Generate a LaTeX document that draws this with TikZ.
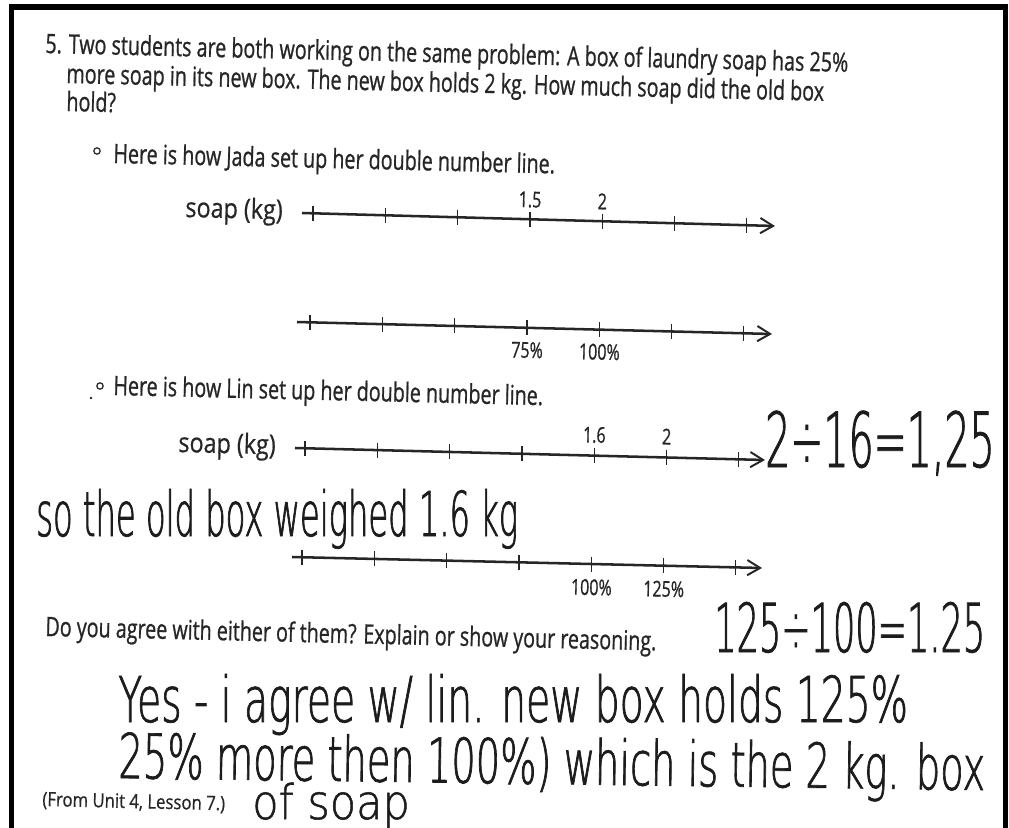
\documentclass[tikz,border=0pt]{standalone}
\usepackage{fontspec}
\usetikzlibrary{arrows.meta,calc}
\newfontfamily\printfont{Open Sans}[FakeStretch=0.737,FakeBold=0.8]
\newfontfamily\axisfont{Open Sans}[FakeStretch=0.85,FakeBold=0.6]
\newfontfamily\handfont{DejaVu Sans ExtraLight}[FakeStretch=0.52,FakeBold=1.1]
\newfontfamily\handwidefont{DejaVu Sans ExtraLight}[FakeStretch=0.62,FakeBold=1.1]
\newfontfamily\handloosefont{DejaVu Sans ExtraLight}[FakeStretch=0.9,FakeBold=1.1]
\definecolor{PrintInk}{HTML}{262626}
\definecolor{PenInk}{HTML}{1C1C1C}
\tikzset{
  prose/.style={font=\printfont\fontsize{19}{23}\selectfont,text=PrintInk,inner sep=0pt,anchor=base west,rotate=-1.35},
  axisname/.style={prose,font=\axisfont\fontsize{19.5}{23}\selectfont},
  ticklabel/.style={font=\printfont\fontsize{15.5}{19}\selectfont,text=PrintInk,inner sep=0pt,anchor=base,rotate=-1.35},
  pen/.style={font=\handfont\fontsize{44}{50}\selectfont,text=PenInk,inner sep=0pt,anchor=base west},
  numline/.style={PrintInk,line width=1.8pt,-{Straight Barb[length=3.2mm,width=3.8mm,line width=1.4pt]}},
  tickmark/.style={PrintInk,line width=0.9pt},
  bullet/.style={circle,draw=PrintInk,line width=0.9pt,minimum size=4.5pt,inner sep=0pt}
}

\begin{document}
\begin{tikzpicture}[x=0.025cm,y=-0.025cm]
  \useasboundingbox (0,0) rectangle (1009,828);
  \draw[black,line width=3.6pt] (11.5,828) |- (1005.5,7) -- (1005.5,828);

  % question
  \node[prose] (qline1) at (45,53) {5. Two students are both working on the same problem: A box of laundry soap has 25\%};
  \node[prose] (qline2) at (66,83) {more soap in its new box. The new box holds 2 kg. How much soap did the old box};
  \node[prose] (qline3) at (66,111) {hold?};

  % Jada
  \node[bullet] (jadaDot) at (97,151) {};
  \node[prose] (jadaText) at (113,163) {Here is how Jada set up her double number line.};
  \node[axisname] (jadaSoap) at (185,217) {soap (kg)};
  \coordinate (jadaTopA) at (302,213);
  \coordinate (jadaTopB) at (775,226);
  \coordinate (jadaBotA) at (297,322);
  \coordinate (jadaBotB) at (772,334);
  \draw[numline] (jadaTopA) -- (jadaTopB);
  \draw[numline] (jadaBotA) -- (jadaBotB);
  \foreach \k in {0,...,6} {
    \path ($(jadaTopA)!{(11+72.3*\k)/473}!(jadaTopB)$) coordinate (jadaTop\k);
    \path ($(jadaBotA)!{(13+72.3*\k)/475}!(jadaBotB)$) coordinate (jadaBot\k);
    \draw[tickmark] ($(jadaTop\k)+(0,-7.5)$) -- ($(jadaTop\k)+(0,7.5)$);
    \draw[tickmark] ($(jadaBot\k)+(0,-7.5)$) -- ($(jadaBot\k)+(0,7.5)$);
  }
  \node[ticklabel] (jadaKgA) at ($(jadaTop3)+(0,-12)$) {1.5};
  \node[ticklabel] (jadaKgB) at ($(jadaTop4)+(0,-12)$) {2};
  \node[ticklabel] (jadaPctA) at ($(jadaBot3)+(0,30)$) {75\%};
  \node[ticklabel] (jadaPctB) at ($(jadaBot4)+(0,30)$) {100\%};

  % Lin
  \fill[PrintInk] (91,398) circle (1.3);
  \node[bullet] (linDot) at (100,386) {};
  \node[prose] (linText) at (113,395) {Here is how Lin set up her double number line.};
  \node[axisname] (linSoap) at (178,452) {soap (kg)};
  \coordinate (linTopA) at (295,448);
  \coordinate (linTopB) at (765,460);
  \coordinate (linBotA) at (292,557);
  \coordinate (linBotB) at (762,568);
  \draw[numline] (linTopA) -- (linTopB);
  \draw[numline] (linBotA) -- (linBotB);
  \foreach \k in {0,...,6} {
    \path ($(linTopA)!{(10+72.3*\k)/470}!(linTopB)$) coordinate (linTop\k);
    \path ($(linBotA)!{(10+72.3*\k)/470}!(linBotB)$) coordinate (linBot\k);
    \draw[tickmark] ($(linTop\k)+(0,-7.5)$) -- ($(linTop\k)+(0,7.5)$);
    \draw[tickmark] ($(linBot\k)+(0,-7.5)$) -- ($(linBot\k)+(0,7.5)$);
  }
  \node[ticklabel] (linKgA) at ($(linTop4)+(0,-13)$) {1.6};
  \node[ticklabel] (linKgB) at ($(linTop5)+(0,-13)$) {2};
  \node[ticklabel] (linPctA) at ($(linBot4)+(0,31)$) {100\%};
  \node[ticklabel] (linPctB) at ($(linBot5)+(0,31)$) {125\%};

  \node[prose] (askText) at (45,636) {Do you agree with either of them? Explain or show your reasoning.};
  \node[prose,font=\axisfont\fontsize{14}{17}\selectfont] (unitRef) at (42,806) {(From Unit 4, Lesson 7.)};

  % handwriting
  \node[pen,font=\handfont\fontsize{54}{60}\selectfont] (penDivA) at (765,467) {2÷16=1,25};
  \node[pen] (penOld) at (36,536) {so the old box weighed 1.6 kg};
  \node[pen,font=\handfont\fontsize{48}{60}\selectfont] (penDivB) at (714,652) {125÷100=1.25};
  \node[pen,font=\handwidefont\fontsize{45}{50}\selectfont] (penYes) at (118,722) {Yes - i agree w/ lin. new box holds 125\%};
  \node[pen,font=\handwidefont\fontsize{44}{50}\selectfont,rotate=-0.8] (penMore) at (118,778) {25\% more then 100\%) which is the 2 kg. box};
  \node[pen,font=\handloosefont\fontsize{34}{40}\selectfont] (penSoap) at (252,819) {of soap};
\end{tikzpicture}
\end{document}
